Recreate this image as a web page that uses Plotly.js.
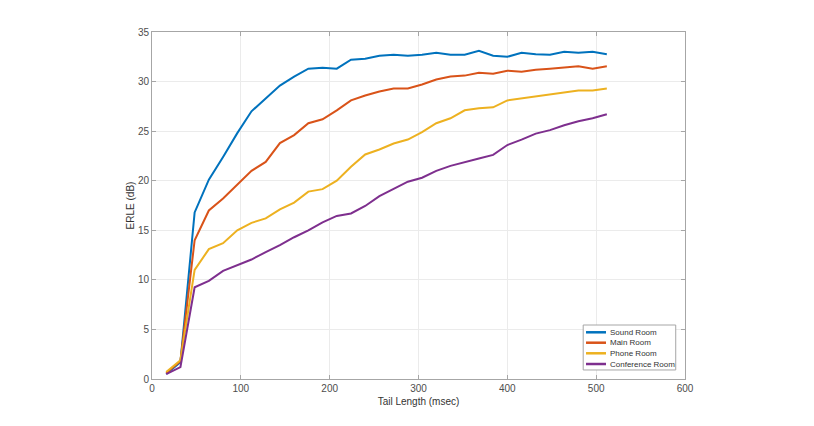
<!DOCTYPE html>
<html>
<head>
<meta charset="utf-8">
<script src="https://cdn.plot.ly/plotly-3.0.1.min.js"></script>
<style>html,body{margin:0;padding:0;background:#fff;}#chart{width:814px;height:426px;}</style>
</head>
<body>
<div id="chart"></div>
<script>
const tailLength = [16,32,48,64,80,96,112,128,144,160,176,192,208,224,240,256,272,288,304,320,336,352,368,384,400,416,432,448,464,480,496,512];
const soundRoom = [0.5,1.7,16.8,20.1,22.4,24.8,27.0,28.3,29.6,30.5,31.3,31.4,31.3,32.2,32.3,32.6,32.7,32.6,32.7,32.9,32.7,32.7,33.1,32.6,32.5,32.9,32.75,32.7,33.0,32.9,33.0,32.75];
const mainRoom = [0.6,1.8,14.0,17.0,18.2,19.6,21.0,21.9,23.8,24.6,25.8,26.2,27.1,28.1,28.6,29.0,29.3,29.3,29.7,30.2,30.5,30.6,30.9,30.8,31.1,31.0,31.2,31.3,31.4,31.55,31.3,31.55];
const phoneRoom = [0.7,1.9,11.0,13.1,13.7,15.0,15.75,16.2,17.1,17.8,18.9,19.15,20.0,21.4,22.65,23.15,23.75,24.15,24.9,25.8,26.3,27.1,27.3,27.4,28.1,28.3,28.45,28.7,28.9,29.1,29.1,29.3];
const conferenceRoom = [0.5,1.2,9.25,9.9,10.9,11.5,12.05,12.8,13.5,14.3,15.0,15.8,16.45,16.7,17.45,18.45,19.2,19.9,20.3,21.0,21.5,21.9,22.25,22.6,23.6,24.15,24.75,25.1,25.6,26.0,26.3,26.7];
const seriesNames = ["Sound Room","Main Room","Phone Room","Conference Room"];
const seriesColors = ["#0072BD","#D95319","#EDB120","#7E2F8E"];
const seriesValues = [soundRoom, mainRoom, phoneRoom, conferenceRoom];

const traces = seriesValues.map((v,i)=>({
  x: tailLength, y: v, type:'scatter', mode:'lines', name: seriesNames[i],
  line:{color: seriesColors[i], width:2}, showlegend:false
}));

// Compact MATLAB-style legend drawn in paper coordinates
const legBox = {x0:0.809, x1:0.9826, y0:0.026, y1:0.1556};
const legRowY = [0.1346, 0.1046, 0.0741, 0.0432];
const legLineX = [0.8143, 0.8518];
const legTextX = 0.8555;

const shapes = [{type:'rect', xref:'paper', yref:'paper', x0:legBox.x0, x1:legBox.x1, y0:legBox.y0, y1:legBox.y1,
  line:{color:'#a6a6a6', width:1}, fillcolor:'#ffffff', layer:'above'}];
const annotations = [];
seriesNames.forEach((n,i)=>{
  shapes.push({type:'line', xref:'paper', yref:'paper', x0:legLineX[0], x1:legLineX[1], y0:legRowY[i], y1:legRowY[i],
    line:{color:seriesColors[i], width:2.5}, layer:'above'});
  annotations.push({xref:'paper', yref:'paper', x:legTextX, y:legRowY[i], xanchor:'left', yanchor:'middle',
    text:n, showarrow:false, font:{size:8, color:'#333'}});
});

const axisCommon = {
  showline:true, mirror:'ticks', linecolor:'#a6a6a6', linewidth:1,
  ticks:'inside', ticklen:4, tickcolor:'#a6a6a6',
  showgrid:true, gridcolor:'#ebebeb', gridwidth:1, zeroline:false,
  tickfont:{family:'Liberation Sans, Arial, sans-serif', size:10, color:'#4d4d4d'}
};

const layout = {
  width:814, height:426,
  paper_bgcolor:'#fff', plot_bgcolor:'#fff',
  margin:{l:152, r:129, t:32, b:47},
  font:{family:'Liberation Sans, Arial, sans-serif', color:'#333'},
  xaxis: Object.assign({}, axisCommon, {range:[0,600], dtick:100,
    title:{text:'Tail Length (msec)', font:{size:10, color:'#333'}, standoff:4}}),
  yaxis: Object.assign({}, axisCommon, {range:[0,35], dtick:5,
    title:{text:'ERLE (dB)', font:{size:10, color:'#333'}, standoff:1}}),
  showlegend:false,
  shapes: shapes,
  annotations: annotations
};

Plotly.newPlot('chart', traces, layout, {displayModeBar:false, staticPlot:true});
</script>
</body>
</html>
